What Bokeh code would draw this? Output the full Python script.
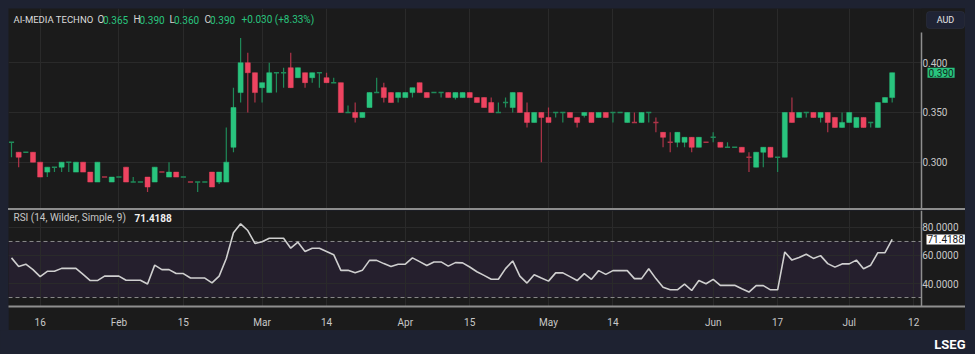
from bokeh.plotting import figure
from bokeh.models import (Range1d, FixedTicker, ColumnDataSource, Label, BoxAnnotation,
                          Spacer, NumeralTickFormatter)
from bokeh.layouts import column, row
from bokeh.embed import file_html
from bokeh.resources import INLINE

# ---------------- data ----------------
opens = [0.320, 0.310, 0.310, 0.310, 0.300, 0.290, 0.295, 0.295, 0.300, 0.290,
         0.300, 0.290, 0.280, 0.285, 0.280, 0.285, 0.295, 0.280, 0.280, 0.285,
         0.280, 0.290, 0.285, 0.290, 0.285, 0.280, 0.280, 0.280, 0.290, 0.280,
         0.280, 0.315, 0.370, 0.400, 0.390, 0.375, 0.370, 0.390, 0.390, 0.395,
         0.385, 0.390, 0.385, 0.390, 0.385, 0.380, 0.380, 0.350, 0.350, 0.345,
         0.355, 0.370, 0.375, 0.370, 0.365, 0.365, 0.370, 0.380, 0.370, 0.370,
         0.370, 0.370, 0.365, 0.365, 0.370, 0.365, 0.365, 0.360, 0.350, 0.360,
         0.355, 0.370, 0.350, 0.340, 0.350, 0.345, 0.350, 0.350, 0.350, 0.345,
         0.347, 0.350, 0.345, 0.350, 0.350, 0.350, 0.340, 0.340, 0.340, 0.350,
         0.340, 0.330, 0.320, 0.320, 0.320, 0.325, 0.315, 0.320, 0.325, 0.320,
         0.315, 0.315, 0.315, 0.305, 0.295, 0.310, 0.315, 0.305, 0.305, 0.350,
         0.345, 0.350, 0.350, 0.345, 0.350, 0.345, 0.335, 0.340, 0.335, 0.345,
         0.340, 0.335, 0.360, 0.365]
highs = [0.320, 0.310, 0.310, 0.310, 0.300, 0.295, 0.295, 0.300, 0.300, 0.300,
         0.300, 0.290, 0.300, 0.285, 0.285, 0.285, 0.295, 0.285, 0.280, 0.285,
         0.295, 0.290, 0.300, 0.290, 0.285, 0.280, 0.280, 0.280, 0.290, 0.290,
         0.335, 0.375, 0.425, 0.410, 0.390, 0.380, 0.400, 0.390, 0.395, 0.410,
         0.395, 0.390, 0.390, 0.390, 0.390, 0.385, 0.380, 0.357, 0.360, 0.350,
         0.370, 0.385, 0.380, 0.370, 0.370, 0.370, 0.375, 0.380, 0.370, 0.370,
         0.370, 0.370, 0.370, 0.370, 0.370, 0.365, 0.365, 0.365, 0.360, 0.365,
         0.370, 0.370, 0.360, 0.350, 0.350, 0.355, 0.350, 0.350, 0.350, 0.345,
         0.350, 0.350, 0.350, 0.350, 0.350, 0.350, 0.350, 0.350, 0.350, 0.350,
         0.345, 0.330, 0.330, 0.330, 0.325, 0.325, 0.325, 0.320, 0.330, 0.320,
         0.320, 0.315, 0.315, 0.310, 0.310, 0.315, 0.315, 0.305, 0.350, 0.365,
         0.350, 0.350, 0.350, 0.350, 0.350, 0.345, 0.350, 0.350, 0.345, 0.345,
         0.340, 0.360, 0.365, 0.390]
lows = [0.305, 0.295, 0.310, 0.300, 0.285, 0.285, 0.290, 0.290, 0.290, 0.290,
        0.290, 0.280, 0.280, 0.285, 0.280, 0.285, 0.280, 0.280, 0.280, 0.270,
        0.280, 0.290, 0.285, 0.285, 0.285, 0.280, 0.270, 0.280, 0.275, 0.278,
        0.280, 0.310, 0.360, 0.350, 0.360, 0.360, 0.370, 0.370, 0.375, 0.375,
        0.385, 0.375, 0.380, 0.375, 0.380, 0.380, 0.350, 0.350, 0.340, 0.345,
        0.355, 0.370, 0.360, 0.360, 0.360, 0.365, 0.365, 0.370, 0.365, 0.370,
        0.365, 0.365, 0.363, 0.365, 0.365, 0.360, 0.355, 0.350, 0.350, 0.355,
        0.350, 0.350, 0.335, 0.340, 0.300, 0.340, 0.345, 0.340, 0.345, 0.335,
        0.345, 0.340, 0.345, 0.345, 0.340, 0.350, 0.340, 0.340, 0.340, 0.340,
        0.330, 0.315, 0.310, 0.315, 0.315, 0.310, 0.315, 0.320, 0.320, 0.315,
        0.315, 0.315, 0.310, 0.290, 0.295, 0.295, 0.305, 0.290, 0.305, 0.340,
        0.345, 0.345, 0.345, 0.340, 0.330, 0.335, 0.335, 0.340, 0.335, 0.335,
        0.335, 0.335, 0.360, 0.360]
closes = [0.320, 0.305, 0.310, 0.300, 0.285, 0.295, 0.295, 0.300, 0.300, 0.300,
          0.290, 0.280, 0.300, 0.285, 0.285, 0.285, 0.280, 0.280, 0.280, 0.275,
          0.295, 0.290, 0.290, 0.285, 0.285, 0.280, 0.280, 0.280, 0.275, 0.290,
          0.300, 0.355, 0.400, 0.390, 0.370, 0.380, 0.390, 0.390, 0.390, 0.375,
          0.395, 0.380, 0.390, 0.390, 0.380, 0.380, 0.350, 0.350, 0.345, 0.350,
          0.370, 0.370, 0.365, 0.360, 0.370, 0.370, 0.375, 0.370, 0.365, 0.370,
          0.370, 0.365, 0.370, 0.370, 0.365, 0.360, 0.355, 0.350, 0.350, 0.360,
          0.370, 0.350, 0.340, 0.350, 0.345, 0.340, 0.350, 0.350, 0.345, 0.340,
          0.350, 0.340, 0.350, 0.345, 0.350, 0.350, 0.350, 0.340, 0.350, 0.350,
          0.340, 0.325, 0.320, 0.330, 0.325, 0.315, 0.325, 0.320, 0.325, 0.315,
          0.315, 0.315, 0.310, 0.305, 0.310, 0.315, 0.305, 0.305, 0.350, 0.340,
          0.350, 0.350, 0.345, 0.350, 0.340, 0.335, 0.340, 0.350, 0.345, 0.335,
          0.340, 0.360, 0.365, 0.390]
rsi = [58.3, 52.2, 53.8, 49.9, 44.9, 48.7, 48.7, 50.8, 50.8, 50.8,
       46.5, 42.1, 42.1, 45.3, 45.3, 45.3, 42.3, 42.3, 42.3, 39.6,
       53.1, 49.9, 49.9, 47.1, 47.1, 43.9, 43.9, 43.9, 40.5, 45.3,
       57.9, 76.2, 82.6, 77.8, 68.6, 69.8, 72.3, 72.3, 72.3, 65.2,
       69.5, 62.9, 65.2, 65.2, 62.9, 60.6, 49.4, 49.4, 47.6, 49.4,
       56.5, 56.5, 54.2, 52.2, 53.8, 53.8, 58.3, 55.6, 52.9, 55.4,
       55.4, 52.4, 54.9, 54.7, 51.8, 48.4, 45.8, 43.0, 43.0, 50.6,
       56.1, 45.3, 40.3, 46.2, 43.9, 41.7, 47.6, 47.6, 44.9, 42.1,
       47.1, 43.0, 49.2, 46.5, 49.2, 49.2, 49.2, 43.5, 43.5, 50.6,
       43.5, 37.3, 35.5, 35.5, 39.6, 35.0, 42.1, 39.8, 43.0, 38.7,
       38.7, 38.7, 36.2, 33.9, 38.5, 38.5, 35.5, 35.5, 62.5, 56.7,
       58.6, 60.9, 57.9, 59.9, 54.2, 51.7, 54.0, 54.0, 56.7, 50.6,
       53.1, 62.0, 62.0, 71.4188]
tick_pos = [4, 15, 24, 35, 44, 55, 64, 75, 84, 98, 107, 117, 126]
tick_labels = ["16", "Feb", "15", "Mar", "14", "Apr", "15", "May", "14", "Jun", "17", "Jul", "12"]
price_ticks = [0.30, 0.35, 0.40]
rsi_ticks = [40, 60, 80]
rsi_levels = [30, 70]

# ---------------- styling / geometry ----------------
BG = "#1b1b1b"
NAVY = "#1e2231"
GRID = "#2a2a2a"
UP = "#29c47e"
DOWN = "#ee4461"
UP_WICK = "#1f8a59"
DOWN_WICK = "#b03449"
TXT = "#c8c8c8"
AXIS_COL = "#8f8f8f"
FONT = "Roboto"

FRAME_W = 957          # plot frame spans the whole dark panel
PX_PER_BAR = 7.16
X0 = -0.419
X1 = X0 + FRAME_W / PX_PER_BAR
AXIS_X = X0 + 913 / PX_PER_BAR     # where the price scale line sits
PY = (0.2534, 0.4546)
RY = (23.6, 92.1)

n = len(closes)
xs = list(range(n))
up = []
for i in range(n):
    if closes[i] != opens[i]:
        up.append(closes[i] > opens[i])
    else:
        up.append(i == 0 or closes[i] >= closes[i - 1])

body_src = ColumnDataSource(dict(
    x=[xs[i] for i in range(n) if opens[i] != closes[i]],
    top=[max(opens[i], closes[i]) for i in range(n) if opens[i] != closes[i]],
    bottom=[min(opens[i], closes[i]) for i in range(n) if opens[i] != closes[i]],
    color=[UP if up[i] else DOWN for i in range(n) if opens[i] != closes[i]],
))
doji_src = ColumnDataSource(dict(
    x0=[xs[i] - 0.36 for i in range(n) if opens[i] == closes[i]],
    x1=[xs[i] + 0.36 for i in range(n) if opens[i] == closes[i]],
    y=[closes[i] for i in range(n) if opens[i] == closes[i]],
    color=[UP_WICK if up[i] else DOWN_WICK for i in range(n) if opens[i] == closes[i]],
))
wick_src = ColumnDataSource(dict(
    x=xs, low=lows, high=highs,
    color=[UP_WICK if u else DOWN_WICK for u in up],
))

xr = Range1d(X0, X1)
LABEL_PROPS = Label.properties()
BOX_PROPS = BoxAnnotation.properties()


def box_label(pad=1, **kw):
    if "padding" in LABEL_PROPS:
        kw["padding"] = pad
    return Label(**kw)


def style_axis(ax, size="10px"):
    ax.major_label_text_color = TXT
    ax.major_label_text_font = FONT
    ax.major_label_text_font_size = size
    ax.major_tick_line_color = None
    ax.minor_tick_line_color = None


def base_fig(height, yr, bottom, standoff):
    fig = figure(width=FRAME_W, height=height, x_range=xr, y_range=Range1d(*yr),
                 output_backend="svg", toolbar_location=None,
                 x_axis_location=("below" if bottom else None), y_axis_location="left",
                 min_border_left=0, min_border_right=0, min_border_top=0,
                 min_border_bottom=(20 if bottom else 0), background_fill_color=BG,
                 border_fill_color=BG, outline_line_color=None)
    fig.grid.grid_line_color = GRID
    fig.xgrid.ticker = FixedTicker(ticks=tick_pos)
    # price scale drawn at its own line inside the panel, labels to its right
    fig.yaxis.fixed_location = AXIS_X
    style_axis(fig.yaxis[0])
    fig.yaxis.axis_line_color = AXIS_COL
    fig.yaxis.axis_line_width = 1.5
    fig.yaxis.major_label_standoff = standoff
    # keep the price-scale column clear of grid lines
    fig.quad(left=[AXIS_X], right=[X1], bottom=[yr[0]], top=[yr[1]],
             fill_color=BG, line_color=None)
    return fig


# ---------------- price pane ----------------
p = base_fig(200, PY, False, -32)
p.yaxis.ticker = FixedTicker(ticks=price_ticks)
p.yaxis.formatter = NumeralTickFormatter(format="0.000")
p.yaxis.bounds = (PY[0], 0.4305)
p.ygrid.ticker = FixedTicker(ticks=price_ticks)

p.segment(x0="x", y0="low", x1="x", y1="high", line_color="color", line_width=1.2, source=wick_src)
p.vbar(x="x", top="top", bottom="bottom", width=0.7, fill_color="color", line_color="color",
       line_width=0.5, source=body_src)
p.segment(x0="x0", y0="y", x1="x1", y1="y", line_color="color", line_width=1.5, source=doji_src)

HY = 189
pieces = [("AI-MEDIA TECHNO", 5, "#dcdcdc", "9.5px"),
          ("O", 89, "#d4d4d4", "10px"), ("0.365", 94.5, UP, "10px"),
          ("H", 125, "#d4d4d4", "10px"), ("0.390", 131, UP, "10px"),
          ("L", 161, "#d4d4d4", "10px"), ("0.360", 165.5, UP, "10px"),
          ("C", 196, "#d4d4d4", "10px"), ("0.390", 201.5, UP, "10px"),
          ("+0.030 (+8.33%)", 233, UP, "10px")]
for t, sx, col, fs in pieces:
    p.add_layout(Label(x=sx, y=HY, x_units="screen", y_units="screen", text=t,
                       text_color=col, text_font=FONT, text_font_size=fs,
                       text_baseline="middle"))

# currency badge (top right)
aud_box = dict(left=918, right=956, bottom=180, top=197, left_units="screen",
               right_units="screen", bottom_units="screen", top_units="screen",
               fill_color="#1f2334", fill_alpha=1.0, line_color="#3d4356", line_width=1)
if "border_radius" in BOX_PROPS:
    aud_box["border_radius"] = 3
p.add_layout(BoxAnnotation(**aud_box))
p.add_layout(Label(x=937, y=188.5, x_units="screen", y_units="screen", text="AUD",
                   text_color="#e6e6e6", text_font=FONT, text_font_size="9px",
                   text_align="center", text_baseline="middle"))
p.add_layout(box_label(x=919, y=closes[-1], x_units="screen", y_units="data",
                       text=f"{closes[-1]:.3f}", text_color="#12291d", text_font=FONT,
                       text_font_size="10px", text_baseline="middle",
                       background_fill_color=UP, pad=1))

# ---------------- RSI pane ----------------
r = base_fig(120, RY, True, -43)
r.add_layout(BoxAnnotation(bottom=rsi_levels[0], top=rsi_levels[1], right=AXIS_X,
                           fill_color="#251f2d", fill_alpha=1.0, line_color=None,
                           level="image"))
r.yaxis.ticker = FixedTicker(ticks=rsi_ticks)
r.yaxis.formatter = NumeralTickFormatter(format="0.0000")
r.ygrid.ticker = FixedTicker(ticks=rsi_ticks)
r.xaxis.ticker = FixedTicker(ticks=tick_pos)
r.xaxis.major_label_overrides = {pos: lab for pos, lab in zip(tick_pos, tick_labels)}
style_axis(r.xaxis[0])
r.xaxis.axis_line_color = AXIS_COL
r.xaxis.axis_line_width = 2
r.xaxis.major_label_standoff = 4
r.segment(x0=[X0] * len(rsi_levels), x1=[AXIS_X] * len(rsi_levels), y0=rsi_levels,
          y1=rsi_levels, line_color="#8a8a8a", line_dash="4 3", line_width=1)
r.line(xs, rsi, line_color="#cfcfcf", line_width=1.6)

r.add_layout(Label(x=5, y=89, x_units="screen", y_units="screen",
                   text="RSI (14, Wilder, Simple, 9)", text_color="#c8c8c8",
                   text_font=FONT, text_font_size="10px", text_baseline="middle"))
r.add_layout(Label(x=126, y=89, x_units="screen", y_units="screen",
                   text=f"{rsi[-1]:.4f}", text_color="#f0f0f0", text_font=FONT,
                   text_font_size="10px", text_font_style="bold", text_baseline="middle"))
r.add_layout(box_label(x=918, y=rsi[-1], x_units="screen", y_units="data",
                       text=f"{rsi[-1]:.4f}", text_color="#1b1b1b", text_font=FONT,
                       text_font_size="10px", text_baseline="middle",
                       background_fill_color="#ffffff", pad=1))

# ---------------- footer ----------------
f = figure(width=975, height=24, x_range=Range1d(0, 975), y_range=Range1d(0, 24),
           output_backend="svg", toolbar_location=None, x_axis_location=None,
           y_axis_location=None, min_border=0, background_fill_color=NAVY,
           border_fill_color=NAVY, outline_line_color=None)
f.grid.visible = False
f.add_layout(Label(x=965, y=10, x_units="screen", y_units="screen", text="LSEG",
                   text_color="#ffffff", text_font=FONT, text_font_size="13px",
                   text_font_style="bold", text_align="right", text_baseline="middle"))

# ---------------- page layout ----------------
sep = Spacer(width=FRAME_W, height=2, styles={"background-color": "#8d8d8d"})

layout = column(
    Spacer(width=975, height=8),
    row(Spacer(width=8, height=200), p, Spacer(width=10, height=200)),
    row(Spacer(width=8, height=2), sep, Spacer(width=10, height=2)),
    row(Spacer(width=8, height=120), r, Spacer(width=10, height=120)),
    f,
    width=975, height=354, styles={"background-color": NAVY},
)

open("out.html", "w").write(file_html(layout, INLINE))
